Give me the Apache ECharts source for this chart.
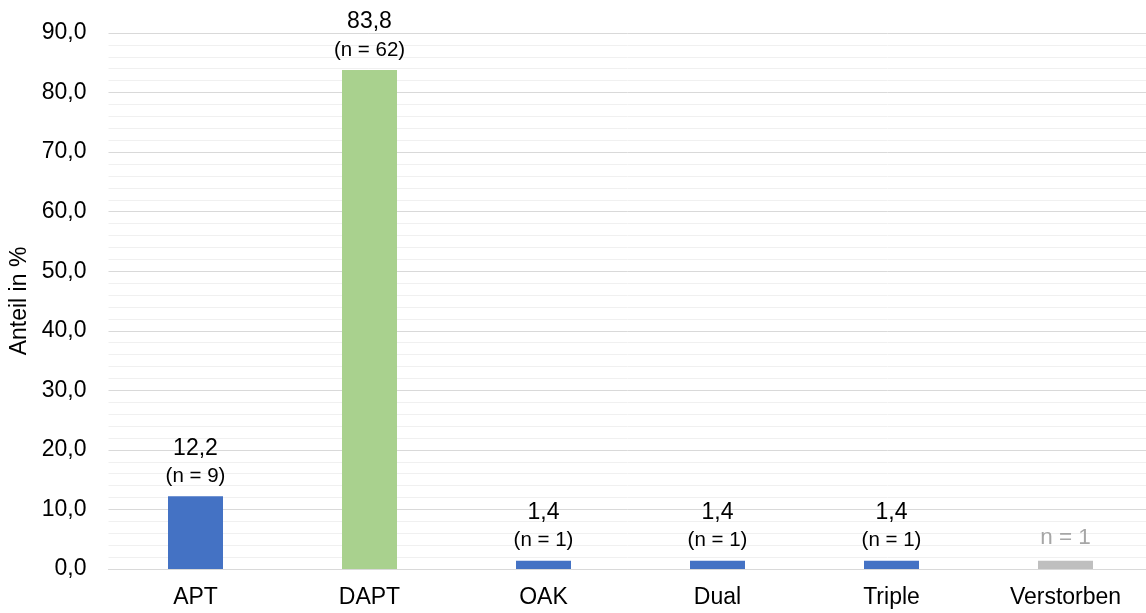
<!DOCTYPE html>
<html>
<head>
<meta charset="utf-8">
<script src="https://cdn.jsdelivr.net/npm/echarts@6/dist/echarts.min.js"></script>
<style>
  html, body { margin: 0; padding: 0; background: #fff; overflow: hidden; }
  #chart { width: 1146px; height: 613px; }
</style>
</head>
<body>
<div id="chart"></div>
<script>
// Anteil je Gruppe in Prozent, mit Fallzahl n
const categories = ['APT', 'DAPT', 'OAK', 'Dual', 'Triple', 'Verstorben'];
const shares = [12.2, 83.8, 1.4, 1.4, 1.4, 1.4];
const counts = [9, 62, 1, 1, 1, 1];
const barColors = ['#4472C4', '#A9D18E', '#4472C4', '#4472C4', '#4472C4', '#BFBFBF'];
const yTicks = [0, 10, 20, 30, 40, 50, 60, 70, 80, 90];

const fmt = v => v.toFixed(1).replace('.', ',');
const FONT = 'Liberation Sans, Arial, sans-serif';

const chart = echarts.init(document.getElementById('chart'), null, { renderer: 'canvas' });

const data = shares.map((v, i) => {
  const deceased = categories[i] === 'Verstorben';
  return {
    value: v,
    itemStyle: { color: barColors[i] },
    label: {
      show: true,
      position: 'top',
      distance: 7,
      formatter: deceased ? '{g|n = ' + counts[i] + '}' : '{v|' + fmt(v) + '}\n{n|(n = ' + counts[i] + ')}',
      rich: {
        v: { fontSize: 23, color: '#000', fontFamily: FONT, lineHeight: 30 },
        n: { fontSize: 20.5, color: '#000', fontFamily: FONT, lineHeight: 26 },
        g: { fontSize: 22.5, color: '#A6A6A6', fontFamily: FONT, lineHeight: 32 }
      }
    }
  };
});

chart.setOption({
  animation: false,
  // plot area runs slightly past the right edge of the canvas
  grid: { left: 108.5, width: 1044, top: 33, bottom: 44, containLabel: false, outerBoundsMode: 'none' },
  xAxis: {
    type: 'category',
    data: categories,
    axisLine: { show: true, lineStyle: { color: '#D9D9D9', width: 1 } },
    axisTick: { show: false },
    axisLabel: { color: '#000', fontSize: 23, fontFamily: FONT, margin: 17 }
  },
  yAxis: {
    type: 'value',
    min: yTicks[0],
    max: yTicks[yTicks.length - 1],
    interval: 10,
    name: 'Anteil in %',
    nameLocation: 'middle',
    nameGap: 71,
    nameRotate: 90,
    nameTextStyle: { color: '#000', fontSize: 23, fontFamily: FONT },
    axisLine: { show: false },
    axisTick: { show: false },
    axisLabel: { color: '#000', fontSize: 23, fontFamily: FONT, margin: 22, formatter: v => fmt(v) },
    splitLine: { show: true, lineStyle: { color: '#D9D9D9', width: 1 } },
    minorTick: { show: false, splitNumber: 5 },
    minorSplitLine: { show: true, lineStyle: { color: '#F0F0F0', width: 1 } }
  },
  series: [{
    type: 'bar',
    data: data,
    barWidth: 55
  }]
});
</script>
</body>
</html>
